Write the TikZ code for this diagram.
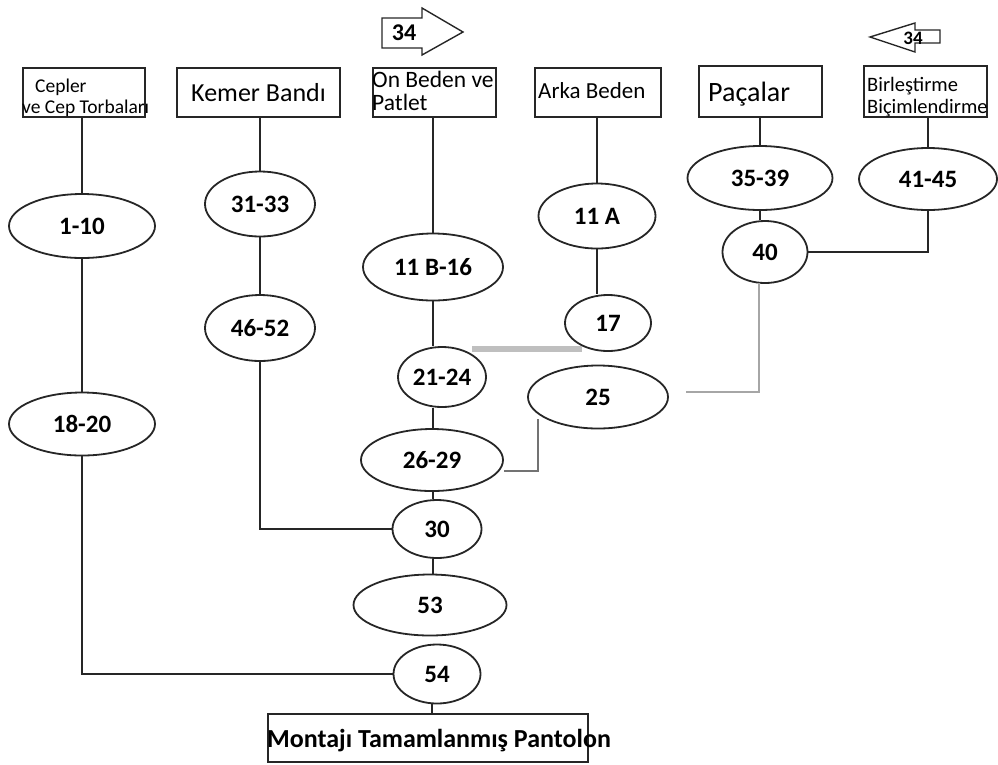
\documentclass[tikz,border=0pt]{standalone}
\usepackage{fontspec}
\setmainfont{Carlito}
\usetikzlibrary{shapes.geometric}
\newcommand{\fsz}[1]{\fontsize{#1}{#1}\selectfont}
\begin{document}
\begin{tikzpicture}[x=1pt,y=-1pt,
  ln/.style={line width=1.8pt, draw=black!85},
  op/.style={draw=black!85, line width=1.8pt, ellipse, inner sep=0pt, font=\fsz{25}\bfseries},
  opb/.style={op},
  bx/.style={draw=black!85, line width=1.8pt, rectangle, inner sep=0pt},
  lbl/.style={inner sep=0pt, anchor=west},
  gthick/.style={line width=6pt, draw=black!25},
  gthin/.style={line width=2.4pt, draw=black!35},
  gmid/.style={line width=1.6pt, draw=black!55},
]
\useasboundingbox (0,0) rectangle (998,764);

% ---- top boxes ----
\node[bx, minimum width=122pt, minimum height=49pt] (cep) at (84,92.5) {};
\node[lbl, font=\fsz{19.5}] (cepT1) at (35,87) {Cepler};
\node[lbl, font=\fsz{19.5}] (cepT2) at (22,108) {ve Cep Torbaları};

\node[bx, minimum width=163pt, minimum height=49pt, font=\fsz{26}] (kem) at (258.5,92.5) {Kemer Bandı};

\node[bx, minimum width=123pt, minimum height=49pt] (onb) at (434.5,92.5) {};
\node[lbl, font=\fsz{23.5}] (onbT1) at (372,79) {On Beden ve};
\node[lbl, font=\fsz{23.5}] (onbT2) at (372,102) {Patlet};

\node[bx, minimum width=126pt, minimum height=49pt] (ark) at (598,92.5) {};
\node[lbl, font=\fsz{23}] (arkT) at (538,91) {Arka Beden};

\node[bx, minimum width=123pt, minimum height=51pt] (pac) at (760.5,91.5) {};
\node[lbl, font=\fsz{28}] (pacT) at (708,94) {Paçalar};

\node[bx, minimum width=123pt, minimum height=51pt] (bir) at (925.5,91.5) {};
\node[lbl, font=\fsz{20.5}] (birT1) at (867,86) {Birleştirme};
\node[lbl, font=\fsz{20.5}] (birT2) at (867,108) {Biçimlendirme};

% ---- block arrows ----
\draw[ln, line width=1.4pt] (382,18) -- (422,18) -- (422,8) -- (463,32) -- (422,55) -- (422,48) -- (382,48) -- cycle;
\node[font=\fsz{24}\bfseries, inner sep=0pt] (a34r) at (404,33) {34};
\draw[ln, line width=1.4pt] (940,30) -- (915,30) -- (915,23) -- (870,37) -- (915,52) -- (915,43) -- (940,43) -- cycle;
\node[font=\fsz{19}\bfseries, inner sep=0pt] (a34l) at (913,38) {34};

% ---- operations ----
\node[opb, minimum width=146pt, minimum height=64pt] (n1)   at (82,226)  {1-10};
\node[op,  minimum width=146pt, minimum height=63pt] (n18)  at (82,424)  {18-20};
\node[opb, minimum width=110pt, minimum height=65pt] (n31)  at (260,204) {31-33};
\node[op,  minimum width=110pt, minimum height=66pt] (n46)  at (260,328) {46-52};
\node[opb, minimum width=140pt, minimum height=67pt] (n11b) at (433,267) {11 B-16};
\node[op,  minimum width=88pt,  minimum height=60pt] (n21)  at (442,377) {21-24};
\node[op,  minimum width=142pt, minimum height=62pt] (n26)  at (432,460) {26-29};
\node[op,  minimum width=89pt,  minimum height=58pt] (n30)  at (437,529) {30};
\node[op,  minimum width=153pt, minimum height=61pt] (n53)  at (430,605) {53};
\node[op,  minimum width=87pt,  minimum height=59pt] (n54)  at (437,674) {54};
\node[opb, minimum width=117pt, minimum height=65pt] (n11a) at (597,216) {11 A};
\node[op,  minimum width=86pt,  minimum height=56pt] (n17)  at (608,323) {17};
\node[op,  minimum width=140pt, minimum height=63pt] (n25)  at (598,397) {25};
\node[op,  minimum width=145pt, minimum height=64pt] (n35)  at (760,178) {35-39};
\node[opb, minimum width=138pt, minimum height=62pt] (n41)  at (928,179) {41-45};
\node[op,  minimum width=85pt,  minimum height=62pt] (n40)  at (765,252) {40};

% ---- final box ----
\node[bx, minimum width=320pt, minimum height=48pt] (fin) at (428,738) {};
\node[inner sep=0pt, font=\fsz{26}\bfseries] (finT) at (439,741) {Montajı Tamamlanmış Pantolon};

% ---- connectors ----
\draw[ln] (cep.south -| n1.north) -- (n1.north);
\draw[ln] (n1.south) -- (n18.north);
\draw[ln] (n18.south) |- (n54.west);

\draw[ln] (kem.south -| n31.north) -- (n31.north);
\draw[ln] (n31.south) -- (n46.north);
\draw[ln] (n46.south) |- (n30.west);

\draw[ln] (onb.south -| n11b.north) -- (n11b.north);
\draw[ln] (n11b.south) -- (n11b.south |- n21.north);
\draw[ln] (n11b.south |- n21.south) -- (n11b.south |- n26.north);
\draw[ln] (n11b.south |- n26.south) -- (n11b.south |- n30.north);
\draw[ln] (n11b.south |- n30.south) -- (n11b.south |- n53.north);
\draw[ln] (n54.south -| n26.south) -- (fin.north -| n26.south);

\draw[ln] (ark.south -| n11a.north) -- (n11a.north);
\draw[ln] (n11a.south) -- (n11a.south |- n17.north);

\draw[ln] (pac.south -| n35.north) -- (n35.north);
\draw[ln] (n35.south) -- (n35.south |- n40.north);

\draw[ln] (bir.south -| n41.north) -- (n41.north);
\draw[ln] (n41.south) |- (n40.east);

% grey connectors
\coordinate (g1) at (472,349);
\coordinate (g2) at (582,349);
\draw[gthick] (g1) -- (g2);

\coordinate (c26) at (504,471);
\coordinate (c25) at (538,419);
\draw[gmid] (c26) -| (c25);

\coordinate (c25r) at (686,392);
\coordinate (c40) at (759,283);
\draw[gthin] (c25r) -| (c40);
\end{tikzpicture}
\end{document}
